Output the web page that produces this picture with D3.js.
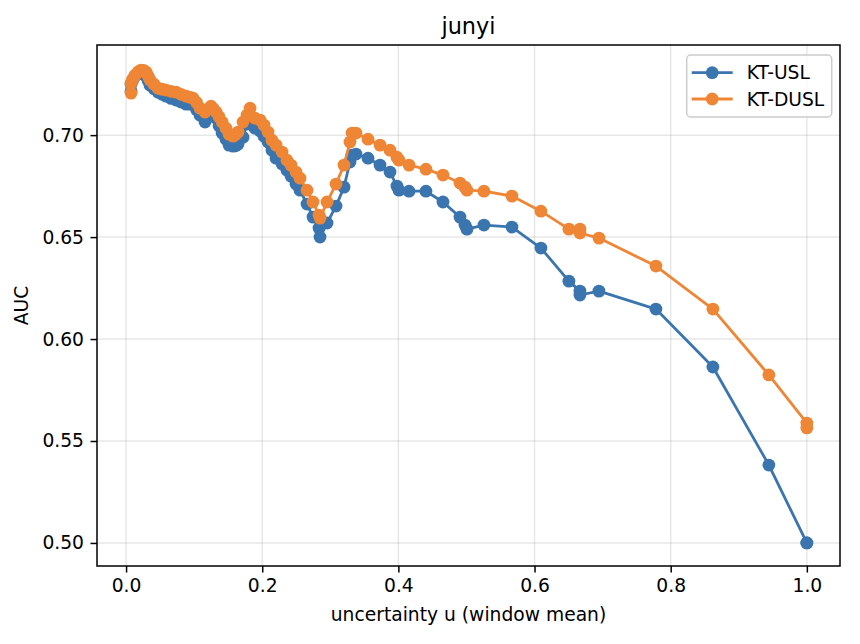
<!DOCTYPE html>
<html>
<head>
<meta charset="utf-8">
<script src="https://cdn.jsdelivr.net/npm/d3@7"></script>
<style>
  body { margin: 0; background: #fff; }
  text { font-family: "DejaVu Sans", sans-serif; fill: #000; }
</style>
</head>
<body>
<div id="chart"></div>
<script>
// window mean uncertainty (shared by both series)
const u = [0.0073, 0.0073, 0.0100, 0.0132, 0.0176, 0.0220, 0.0257, 0.0294, 0.0323, 0.0352,
  0.0411, 0.0470, 0.0529, 0.0587, 0.0660, 0.0734, 0.0808, 0.0881, 0.0933, 0.0984,
  0.1036, 0.1087, 0.1160, 0.1204, 0.1248, 0.1285, 0.1322, 0.1366, 0.1410, 0.1468,
  0.1512, 0.1571, 0.1608, 0.1645, 0.1718, 0.1777, 0.1821, 0.1894, 0.1968,
  0.2026, 0.2085, 0.2144, 0.2203, 0.2291,
  0.2364, 0.2423, 0.2496, 0.2555, 0.2658, 0.2746, 0.2834, 0.2849, 0.2952, 0.3084,
  0.3201, 0.3289, 0.3319, 0.3377, 0.3554, 0.3730, 0.3877, 0.3979, 0.4009, 0.4156,
  0.4405, 0.4655, 0.4905, 0.4978, 0.5007, 0.5257, 0.5668, 0.6094, 0.6505, 0.6667,
  0.6667, 0.6946, 0.7783, 0.8620, 0.9442, 1.0, 1.0];

const auc_usl = [0.7250, 0.7215, 0.7270, 0.7290, 0.7300, 0.7309, 0.7300, 0.7289, 0.7268, 0.7245,
  0.7228, 0.7211, 0.7200, 0.7191, 0.7180, 0.7172, 0.7162, 0.7152, 0.7152, 0.7152,
  0.7125, 0.7098, 0.7064, 0.7090, 0.7113, 0.7098, 0.7083, 0.7046, 0.7010, 0.6980,
  0.6951, 0.6946, 0.6948, 0.6956, 0.6990, 0.7054, 0.7088, 0.7034, 0.7020,
  0.6995, 0.6966, 0.6926, 0.6887, 0.6858,
  0.6828, 0.6799, 0.6760, 0.6730, 0.6662, 0.6598, 0.6544, 0.6500, 0.6569, 0.6652,
  0.6745, 0.6868, 0.6902, 0.6907, 0.6887, 0.6853, 0.6819, 0.6750, 0.6730, 0.6725,
  0.6725, 0.6672, 0.6598, 0.6559, 0.6539, 0.6559, 0.6549, 0.6446, 0.6284, 0.6235,
  0.6216, 0.6235, 0.6147, 0.5863, 0.5382, 0.5000, 0.5000];

const auc_dusl = [0.7255, 0.7206, 0.7275, 0.7294, 0.7310, 0.7319, 0.7318, 0.7309, 0.7290, 0.7270,
  0.7250, 0.7230, 0.7225, 0.7221, 0.7215, 0.7211, 0.7200, 0.7191, 0.7186, 0.7181,
  0.7160, 0.7132, 0.7113, 0.7128, 0.7142, 0.7128, 0.7113, 0.7090, 0.7064, 0.7034,
  0.7005, 0.6995, 0.7003, 0.7015, 0.7064, 0.7098, 0.7132, 0.7083, 0.7074,
  0.7049, 0.7015, 0.6975, 0.6951, 0.6917,
  0.6877, 0.6853, 0.6819, 0.6789, 0.6730, 0.6672, 0.6608, 0.6593, 0.6672, 0.6760,
  0.6853, 0.6966, 0.7010, 0.7010, 0.6980, 0.6951, 0.6926, 0.6892, 0.6877, 0.6853,
  0.6833, 0.6804, 0.6765, 0.6745, 0.6730, 0.6725, 0.6701, 0.6627, 0.6539, 0.6539,
  0.6520, 0.6495, 0.6358, 0.6147, 0.5824, 0.5588, 0.5564];

const series_names = ["KT-USL", "KT-DUSL"];
const series_colors = ["#3b75af", "#ef8636"];
const x_ticks = [0.0, 0.2, 0.4, 0.6, 0.8, 1.0];
const y_ticks = [0.50, 0.55, 0.60, 0.65, 0.70];

const W = 860, H = 644,
      margin = {top: 45, right: 20, bottom: 78, left: 97};
const width = W - margin.left - margin.right,
      height = H - margin.top - margin.bottom;
const fs = "18.7px";
const r = 6.4;

const svg = d3.select("#chart")
  .append("svg")
    .attr("width", W)
    .attr("height", H);

const g = svg.append("g")
    .attr("transform", "translate(" + margin.left + "," + margin.top + ")");

const x = d3.scaleLinear()
    .domain([-0.0427, 1.0487])
    .range([0, width]);

const y = d3.scaleLinear()
    .domain([0.4887, 0.7442])
    .range([height, 0]);

// grid
g.append("g").selectAll("line")
  .data(x_ticks).enter().append("line")
    .attr("x1", d => x(d)).attr("x2", d => x(d))
    .attr("y1", 0).attr("y2", height)
    .attr("stroke", "#b0b0b0").attr("stroke-opacity", 0.3).attr("stroke-width", 1.5);
g.append("g").selectAll("line")
  .data(y_ticks).enter().append("line")
    .attr("y1", d => y(d)).attr("y2", d => y(d))
    .attr("x1", 0).attr("x2", width)
    .attr("stroke", "#b0b0b0").attr("stroke-opacity", 0.3).attr("stroke-width", 1.5);

// axes
const xAxis = g.append("g")
    .attr("transform", "translate(0," + height + ")")
    .call(d3.axisBottom(x).tickValues(x_ticks).tickFormat(d3.format(".1f")).tickSize(6.5).tickPadding(6));
const yAxis = g.append("g")
    .call(d3.axisLeft(y).tickValues(y_ticks).tickFormat(d3.format(".2f")).tickSize(6.5).tickPadding(6.5));
[xAxis, yAxis].forEach(a => {
  a.select(".domain").remove();
  a.selectAll("text").style("font-size", fs).style("font-family", "DejaVu Sans");
  a.selectAll("line").attr("stroke", "#000").attr("stroke-width", 1.5);
});

// frame
g.append("rect")
    .attr("width", width).attr("height", height)
    .attr("fill", "none").attr("stroke", "#000").attr("stroke-width", 1.5);

const all = [auc_usl, auc_dusl];
const line = d3.line()
    .x(d => x(d[0]))
    .y(d => y(d[1]));

all.forEach((vals, i) => {
  const pts = u.map((d, j) => [d, vals[j]]);
  g.append("path")
      .datum(pts)
      .attr("fill", "none")
      .attr("stroke", series_colors[i])
      .attr("stroke-width", 2.8)
      .attr("stroke-linejoin", "round")
      .attr("d", line);
  g.append("g").selectAll("circle")
    .data(pts).enter().append("circle")
      .attr("cx", d => x(d[0]))
      .attr("cy", d => y(d[1]))
      .attr("r", r)
      .attr("fill", series_colors[i]);
});

// title and labels
svg.append("text")
    .attr("x", margin.left + width / 2)
    .attr("y", 34)
    .attr("text-anchor", "middle")
    .style("font-size", "22.4px")
    .text("junyi");

svg.append("text")
    .attr("x", margin.left + width / 2)
    .attr("y", 621)
    .attr("text-anchor", "middle")
    .style("font-size", fs)
    .text("uncertainty u (window mean)");

svg.append("text")
    .attr("transform", "translate(28," + (margin.top + height / 2) + ") rotate(-90)")
    .attr("text-anchor", "middle")
    .style("font-size", fs)
    .text("AUC");

// legend
const leg = g.append("g")
    .attr("transform", "translate(" + (width - 153.3) + ",10)");
leg.append("rect")
    .attr("width", 145).attr("height", 62)
    .attr("rx", 4)
    .attr("fill", "#fff").attr("fill-opacity", 0.8)
    .attr("stroke", "#cccccc").attr("stroke-width", 1.5);
series_names.forEach((name, i) => {
  const row = leg.append("g").attr("transform", "translate(0," + (17.7 + i * 26.3) + ")");
  row.append("line")
      .attr("x1", 5).attr("x2", 46)
      .attr("stroke", series_colors[i]).attr("stroke-width", 2.8);
  row.append("circle")
      .attr("cx", 25.5).attr("r", r).attr("fill", series_colors[i]);
  row.append("text")
      .attr("x", 60).attr("dy", "0.35em")
      .style("font-size", fs)
      .text(name);
});
</script>
</body>
</html>
